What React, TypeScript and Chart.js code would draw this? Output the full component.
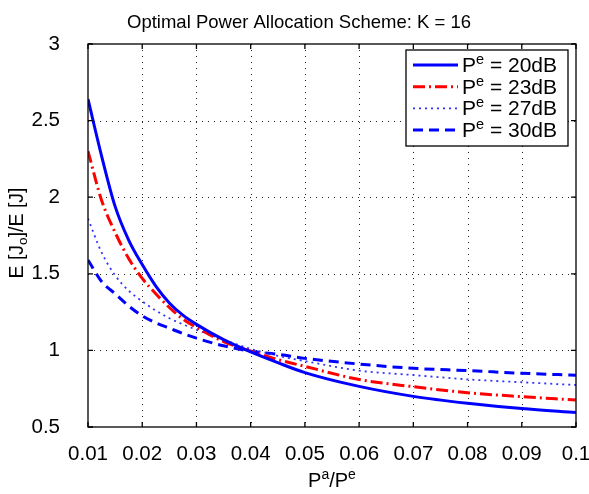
import React, { useEffect, useRef } from "react";
import { Chart, registerables } from "chart.js";
Chart.register(...registerables);

const FONT = '"Liberation Sans", Arial, Helvetica, sans-serif';

const xValues = [0.01, 0.0125, 0.015, 0.0175, 0.02, 0.0225, 0.025, 0.0275, 0.03, 0.035, 0.04, 0.045, 0.05, 0.06, 0.07, 0.08, 0.09, 0.1];
const pe20 = [2.64, 2.27, 1.94, 1.72, 1.56, 1.42, 1.31, 1.23, 1.17, 1.07, 0.99, 0.92, 0.855, 0.765, 0.70, 0.655, 0.62, 0.594];
const pe23 = [2.30, 1.98, 1.77, 1.60, 1.47, 1.37, 1.28, 1.205, 1.15, 1.058, 0.995, 0.94, 0.896, 0.81, 0.763, 0.724, 0.698, 0.676];
const pe27 = [1.86, 1.64, 1.49, 1.39, 1.32, 1.26, 1.21, 1.17, 1.135, 1.07, 1.01, 0.965, 0.93, 0.868, 0.839, 0.811, 0.792, 0.774];
const pe30 = [1.59, 1.45, 1.37, 1.29, 1.225, 1.18, 1.145, 1.11, 1.08, 1.03, 0.995, 0.975, 0.948, 0.911, 0.883, 0.868, 0.851, 0.838];
const seriesNames = ["20dB", "23dB", "27dB", "30dB"];
const xTicks = [0.01, 0.02, 0.03, 0.04, 0.05, 0.06, 0.07, 0.08, 0.09, 0.1];
const yTicks = [0.5, 1, 1.5, 2, 2.5, 3];
const titleText = "Optimal Power Allocation Scheme: K = 16";

const styles = [
  { color: "#0000ff", width: 3, dash: [] as number[] },
  { color: "#ff0000", width: 3, dash: [12, 4, 2, 4] },
  { color: "#3333ff", width: 1.8, dash: [2, 4] },
  { color: "#0000ff", width: 3, dash: [10, 6] },
];

type Part = { t: string; size: number; dy: number };

function drawRich(ctx: CanvasRenderingContext2D, parts: Part[], x: number, y: number, align: "left" | "center") {
  let total = 0;
  const widths = parts.map((p) => {
    ctx.font = `${p.size}px ${FONT}`;
    const w = ctx.measureText(p.t).width;
    total += w;
    return w;
  });
  let cx = align === "center" ? x - total / 2 : x;
  ctx.textAlign = "left";
  ctx.textBaseline = "alphabetic";
  parts.forEach((p, i) => {
    ctx.font = `${p.size}px ${FONT}`;
    ctx.fillText(p.t, cx, y + p.dy);
    cx += widths[i];
  });
}

const decorPlugin = {
  id: "decor",
  beforeDatasetsDraw(chart: any) {
    const { ctx, chartArea, scales } = chart;
    const { left, right, top, bottom } = chartArea;
    ctx.save();
    ctx.strokeStyle = "#222";
    ctx.lineWidth = 1;
    ctx.setLineDash([1, 5]);
    xTicks.forEach((v) => {
      const px = Math.round(scales.x.getPixelForValue(v)) + 0.5;
      if (px <= left + 1 || px >= right - 1) return;
      ctx.beginPath();
      ctx.moveTo(px, top);
      ctx.lineTo(px, bottom);
      ctx.stroke();
    });
    yTicks.forEach((v) => {
      const py = Math.round(scales.y.getPixelForValue(v)) + 0.5;
      if (py <= top + 1 || py >= bottom - 1) return;
      ctx.beginPath();
      ctx.moveTo(left, py);
      ctx.lineTo(right, py);
      ctx.stroke();
    });
    ctx.restore();
  },
  afterDraw(chart: any) {
    const { ctx, chartArea, scales } = chart;
    const { left, right, top, bottom } = chartArea;
    ctx.save();
    ctx.strokeStyle = "#000";
    ctx.lineWidth = 1.3;
    ctx.setLineDash([]);
    ctx.strokeRect(left, top, right - left, bottom - top);
    const tl = 5;
    xTicks.forEach((v) => {
      const px = scales.x.getPixelForValue(v);
      ctx.beginPath();
      ctx.moveTo(px, bottom);
      ctx.lineTo(px, bottom - tl);
      ctx.moveTo(px, top);
      ctx.lineTo(px, top + tl);
      ctx.stroke();
    });
    yTicks.forEach((v) => {
      const py = scales.y.getPixelForValue(v);
      ctx.beginPath();
      ctx.moveTo(left, py);
      ctx.lineTo(left + tl, py);
      ctx.moveTo(right, py);
      ctx.lineTo(right - tl, py);
      ctx.stroke();
    });

    ctx.fillStyle = "#000";
    // title
    drawRich(ctx, [{ t: titleText, size: 18.5, dy: 0 }], 299, 27.5, "center");
    // x axis title
    drawRich(
      ctx,
      [
        { t: "P", size: 20, dy: 0 },
        { t: "a", size: 14, dy: -8 },
        { t: "/P", size: 20, dy: 0 },
        { t: "e", size: 14, dy: -8 },
      ],
      (left + right) / 2,
      487,
      "center"
    );
    // y axis title
    ctx.save();
    ctx.translate(23, 233);
    ctx.rotate(-Math.PI / 2);
    drawRich(
      ctx,
      [
        { t: "E [J", size: 19.5, dy: 0 },
        { t: "o", size: 13.5, dy: 4 },
        { t: "]/E [J]", size: 19.5, dy: 0 },
      ],
      0,
      0,
      "center"
    );
    ctx.restore();

    // legend
    const bw = 162;
    const bh = 96;
    const bx = right - 8 - bw;
    const by = top + 6;
    ctx.fillStyle = "#fff";
    ctx.fillRect(bx, by, bw, bh);
    ctx.strokeStyle = "#000";
    ctx.lineWidth = 1.3;
    ctx.strokeRect(bx, by, bw, bh);
    seriesNames.forEach((name, i) => {
      const ry = by + 15 + i * 21.7;
      const st = styles[i];
      ctx.strokeStyle = st.color;
      ctx.lineWidth = st.width;
      ctx.setLineDash(st.dash);
      ctx.beginPath();
      ctx.moveTo(bx + 7, ry);
      ctx.lineTo(bx + 52, ry);
      ctx.stroke();
      ctx.setLineDash([]);
      ctx.fillStyle = "#000";
      drawRich(
        ctx,
        [
          { t: "P", size: 21, dy: 0 },
          { t: "e", size: 14.5, dy: -8 },
          { t: " = " + name, size: 21, dy: 0 },
        ],
        bx + 56,
        ry + 7,
        "left"
      );
    });
    ctx.restore();
  },
};

export default function App() {
  const ref = useRef<HTMLCanvasElement>(null);
  useEffect(() => {
    document.body.style.margin = "0";
    const canvas = ref.current!;
    const series = [pe20, pe23, pe27, pe30];
    const chart = new Chart(canvas, {
      type: "line",
      data: {
        datasets: series.map((s, i) => ({
          label: "Pe = " + seriesNames[i],
          data: xValues.map((x, j) => ({ x, y: s[j] })),
          borderColor: styles[i].color,
          borderWidth: styles[i].width,
          borderDash: styles[i].dash,
          pointRadius: 0,
          fill: false,
          cubicInterpolationMode: "monotone" as const,
        })),
      },
      options: {
        responsive: false,
        animation: false,
        devicePixelRatio: 1,
        layout: { padding: { top: 44, right: 13, left: 0, bottom: 0 } },
        plugins: { legend: { display: false }, title: { display: false }, tooltip: { enabled: false } },
        scales: {
          x: {
            type: "linear",
            min: 0.01,
            max: 0.1,
            grid: { display: false },
            border: { display: false },
            afterBuildTicks: (s: any) => {
              s.ticks = xTicks.map((v) => ({ value: v }));
            },
            afterFit: (s: any) => {
              s.height = 67;
              s.paddingLeft = 0;
              s.paddingRight = 0;
            },
            ticks: {
              color: "#000",
              font: { family: FONT, size: 20.5 },
              padding: 7,
              maxRotation: 0,
              autoSkip: false,
              callback: (v: any) => String(Number(Number(v).toFixed(3))),
            },
          },
          y: {
            type: "linear",
            min: 0.5,
            max: 3,
            grid: { display: false },
            border: { display: false },
            afterBuildTicks: (s: any) => {
              s.ticks = yTicks.map((v) => ({ value: v }));
            },
            afterFit: (s: any) => {
              s.width = 88;
              s.paddingTop = 0;
              s.paddingBottom = 0;
            },
            ticks: {
              color: "#000",
              font: { family: FONT, size: 20.5 },
              padding: 20,
              autoSkip: false,
              callback: (v: any) => String(Number(Number(v).toFixed(2))),
            },
          },
        },
      },
      plugins: [decorPlugin],
    });
    return () => chart.destroy();
  }, []);
  return <canvas ref={ref} width={589} height={494} style={{ display: "block" }} />;
}
